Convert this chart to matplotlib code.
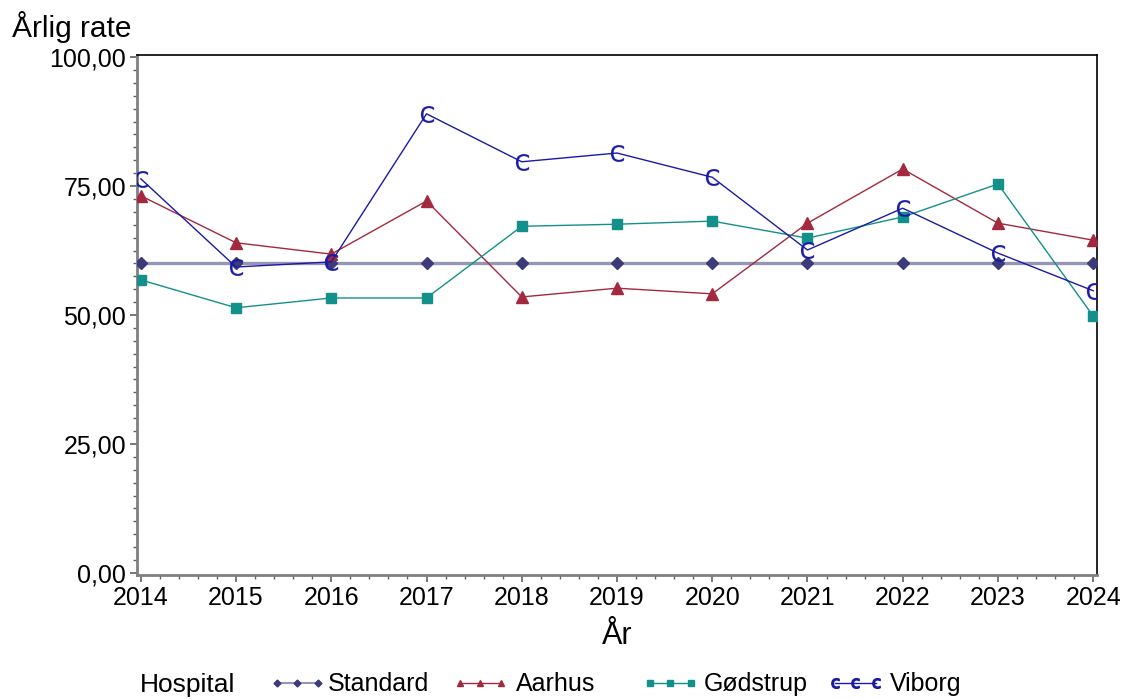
import matplotlib
matplotlib.use("Agg")
import matplotlib.pyplot as plt
from matplotlib.ticker import MultipleLocator, FixedLocator, FuncFormatter
from matplotlib.lines import Line2D

plt.rcParams['font.family'] = ['Liberation Sans', 'DejaVu Sans']

years = [2014, 2015, 2016, 2017, 2018, 2019, 2020, 2021, 2022, 2023, 2024]
standard = [60, 60, 60, 60, 60, 60, 60, 60, 60, 60, 60]
aarhus = [73.1, 64.0, 61.8, 72.1, 53.5, 55.2, 54.1, 67.8, 78.3, 67.8, 64.5]
godstrup = [56.8, 51.4, 53.3, 53.3, 67.2, 67.6, 68.2, 64.9, 69.0, 75.4, 49.8]
viborg = [76.4, 59.3, 60.3, 89.0, 79.7, 81.4, 76.7, 62.6, 70.7, 62.0, 54.7]
series_names = ["Standard", "Aarhus", "Gødstrup", "Viborg"]
y_ticks = [0, 25, 50, 75, 100]

c_std_line = "#9595b5"
c_std_mark = "#3b3b7a"
c_aar = "#a3293f"
c_god = "#14908a"
c_vib = "#1a1aa8"

fig = plt.figure(figsize=(11.27, 6.99), dpi=100)
ax = fig.add_axes([137/1127, 1-575/699, (1097-137)/1127, (575-55)/699])

ax.plot(years, standard, color=c_std_line, lw=2.4, zorder=2)
ax.plot(years, standard, ls='none', marker='D', ms=6, color=c_std_mark, zorder=3)
ax.plot(years, aarhus, color=c_aar, lw=1.0, marker='^', ms=8, zorder=4)
ax.plot(years, godstrup, color=c_god, lw=1.0, marker='s', ms=7.5, zorder=4)
ax.plot(years, viborg, color=c_vib, lw=1.0, zorder=5)
ax.plot(years, viborg, ls='none', marker=r'$\mathrm{C}$', ms=12, color=c_vib,
        markeredgewidth=0.2, zorder=6)

ax.set_xlim(2013.96, 2024.04)
ax.set_ylim(-0.4, 100.4)
ax.xaxis.set_major_locator(FixedLocator(years))
ax.xaxis.set_minor_locator(MultipleLocator(0.2))
ax.yaxis.set_major_locator(FixedLocator(y_ticks))
ax.yaxis.set_minor_locator(MultipleLocator(2.5))
ax.yaxis.set_major_formatter(FuncFormatter(lambda v, p: f"{v:.2f}".replace('.', ',')))

for s in ['left', 'bottom']:
    ax.spines[s].set_color('#808080')
    ax.spines[s].set_linewidth(2)
for s in ['top', 'right']:
    ax.spines[s].set_color('black')
    ax.spines[s].set_linewidth(1.2)

ax.tick_params(which='major', direction='out', length=5, width=1.2, color='#606060',
               labelsize=18, pad=3)
ax.tick_params(which='minor', direction='out', length=3, width=1, color='#606060')
ax.tick_params(axis='x', which='both', top=False)
ax.tick_params(axis='y', which='both', right=False)

ax.set_xlabel("År", fontsize=22, labelpad=8)
fig.text(12/1127, 1-27/699, "Årlig rate", fontsize=21.5, ha='left', va='center')

# legend drawn manually in figure coordinates
ly = 1 - 683/699
fig.text(140/1127, 1-685/699, "Hospital", fontsize=19, ha='left', va='center')
keys = [
    dict(color=c_std_line, lw=1.5, marker='D', ms=3.5, mfc=c_std_mark, mec=c_std_mark),
    dict(color=c_aar, lw=1, marker='^', ms=5),
    dict(color=c_god, lw=1, marker='s', ms=4.5),
    dict(color=c_vib, lw=1, marker=r'$\mathrm{c}$', ms=7),
]
key_x = [277, 460, 650, 835]
text_x = [328, 516, 704, 890]
for name, kw, kx, tx in zip(series_names, keys, key_x, text_x):
    xs = [kx/1127, (kx+20)/1127, (kx+41)/1127]
    fig.add_artist(Line2D(xs, [ly]*3, transform=fig.transFigure, **kw))
    fig.text(tx/1127, 1-684/699, name, fontsize=18, ha='left', va='center')

fig.savefig("out.png", dpi=100)
